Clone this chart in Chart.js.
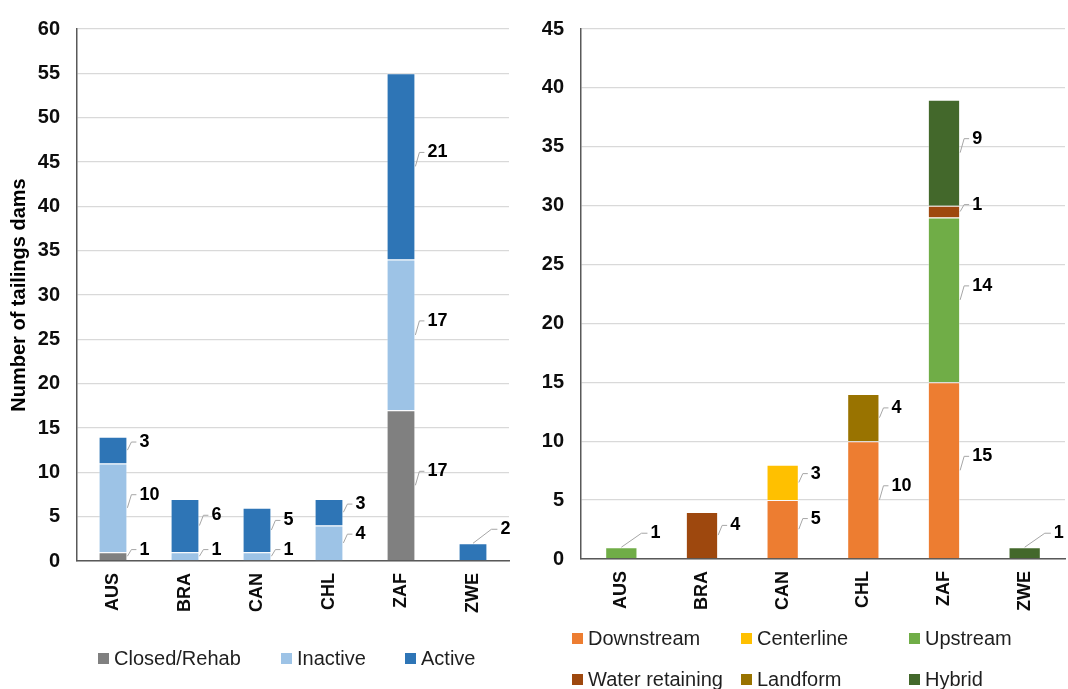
<!DOCTYPE html>
<html>
<head>
<meta charset="utf-8">
<script src="https://cdn.jsdelivr.net/npm/chart.js@4.4.1/dist/chart.umd.min.js"></script>
<style>
  html, body { margin: 0; padding: 0; background: #fff; }
  body {
    width: 1068px; height: 689px; position: relative; overflow: hidden;
    font-family: "Liberation Sans", Arial, sans-serif;
  }
  canvas { position: absolute; top: 0; }
  #statusChart { left: 0; }
  #methodChart { left: 530px; }
  .legend-item {
    position: absolute; display: flex; align-items: center;
    height: 22px; line-height: 22px; font-size: 20px; color: #1f1f1f; white-space: nowrap;
  }
  .legend-item i { display: inline-block; width: 11px; height: 11px; margin-right: 5px; }
</style>
</head>
<body>
<canvas id="statusChart" width="530" height="689"></canvas>
<canvas id="methodChart" width="538" height="689"></canvas>
<div id="legends"></div>

<script>
const countries = ["AUS", "BRA", "CAN", "CHL", "ZAF", "ZWE"];

// dams by status
const closedRehab = [1, 0, 0, 0, 17, 0];
const inactive = [10, 1, 1, 4, 17, 0];
const active = [3, 6, 5, 3, 21, 2];

// dams by construction method
const downstream = [0, 0, 5, 10, 15, 0];
const centerline = [0, 0, 3, 0, 0, 0];
const upstream = [1, 0, 0, 0, 14, 0];
const waterRetaining = [0, 4, 0, 0, 1, 0];
const landform = [0, 0, 0, 4, 0, 0];
const hybrid = [0, 0, 0, 0, 9, 1];

const FONT = "'Liberation Sans', Arial, sans-serif";
Chart.defaults.font.family = FONT;
Chart.defaults.color = "#0d0d0d";

//Value labels with small leader lines to the right of each segment
const leaderLabels = {
  id: "leaderLabels",
  afterDatasetsDraw(chart) {
    const ctx = chart.ctx;
    const sets = chart.data.datasets;
    ctx.save();
    ctx.font = `bold 18px ${FONT}`;
    ctx.fillStyle = "#000";
    ctx.strokeStyle = "#a6a6a6";
    ctx.lineWidth = 1;
    ctx.textBaseline = "middle";
    sets.forEach((ds, i) => {
      const meta = chart.getDatasetMeta(i);
      meta.data.forEach((bar, j) => {
        const value = ds.data[j];
        if (!value) return;
        const { x, y, base, width } = bar.getProps(["x", "y", "base", "width"], true);
        const right = x + width / 2;
        const h = base - y;
        const total = sets.reduce((sum, d) => sum + d.data[j], 0);
        let tx, ty;
        ctx.beginPath();
        if (total === value && h < 20) {
          // short lone bar: leader starts from its top
          ty = y - 14;
          ctx.moveTo(x, y);
          ctx.lineTo(right + 4, ty);
          ctx.lineTo(right + 10, ty);
          tx = right + 13;
        } else {
          const mid = (y + base) / 2;
          ty = mid - (6 + Math.min(h * 0.08, 8));
          ctx.moveTo(right, mid);
          ctx.lineTo(right + 4, ty);
          ctx.lineTo(right + 9, ty);
          tx = right + 12;
        }
        ctx.stroke();
        ctx.fillText(String(value), tx, ty);
      });
    });
    ctx.restore();
  },
};

function makeChart(canvas, datasets, yMax, yWidth, padding, yTitle) {
  return new Chart(canvas, {
    type: "bar",
    data: { labels: countries, datasets: datasets },
    options: {
      responsive: false,
      animation: false,
      devicePixelRatio: 1,
      layout: { padding: padding },
      datasets: {
        bar: {
          categoryPercentage: 1,
          barPercentage: 0.4,
          borderWidth: 1,
          borderColor: "rgba(255,255,255,0.35)",
        },
      },
      plugins: {
        legend: { display: false },
        tooltip: { enabled: false },
      },
      scales: {
        x: {
          stacked: true,
          grid: { display: false, drawTicks: false },
          border: { display: true, color: "#595959", width: 1.5 },
          ticks: {
            minRotation: 90,
            maxRotation: 90,
            padding: 12,
            font: { size: 18, weight: "bold" },
          },
          afterFit: (s) => { s.height = 70; },
        },
        y: {
          stacked: true,
          min: 0,
          max: yMax,
          grid: { color: "#d9d9d9", lineWidth: 1.3, drawTicks: false },
          border: { display: true, color: "#595959", width: 1.5 },
          ticks: { stepSize: 5, padding: 17, font: { size: 20, weight: "bold" } },
          title: {
            display: !!yTitle,
            text: yTitle,
            font: { size: 20, weight: "bold" },
            color: "#000",
            padding: { top: 7, bottom: 0 },
          },
          afterFit: (s) => { s.width = yWidth; },
        },
      },
    },
    plugins: [leaderLabels],
  });
}

const statusSets = [
  { label: "Closed/Rehab", data: closedRehab, backgroundColor: "#808080" },
  { label: "Inactive", data: inactive, backgroundColor: "#9dc3e6" },
  { label: "Active", data: active, backgroundColor: "#2e75b6" },
];

const methodSets = [
  { label: "Downstream", data: downstream, backgroundColor: "#ed7d31" },
  { label: "Centerline", data: centerline, backgroundColor: "#ffc000" },
  { label: "Upstream", data: upstream, backgroundColor: "#70ad47" },
  { label: "Water retaining", data: waterRetaining, backgroundColor: "#9e480e" },
  { label: "Landform", data: landform, backgroundColor: "#997300" },
  { label: "Hybrid", data: hybrid, backgroundColor: "#43682b" },
];

makeChart(document.getElementById("statusChart"), statusSets, 60, 77,
  { top: 24, left: 0, right: 21, bottom: 58 }, "Number of tailings dams");
makeChart(document.getElementById("methodChart"), methodSets, 45, 51,
  { top: 26, left: 0, right: 3, bottom: 60 }, "");

//HTML legends below each chart
function buildLegend(datasets, slots) {
  const holder = document.getElementById("legends");
  datasets.forEach((ds, i) => {
    const item = document.createElement("div");
    item.className = "legend-item";
    item.style.left = slots[i][0] + "px";
    item.style.top = slots[i][1] - 11 + "px";
    const box = document.createElement("i");
    box.style.background = ds.backgroundColor;
    item.appendChild(box);
    item.appendChild(document.createTextNode(ds.label));
    holder.appendChild(item);
  });
}

buildLegend(statusSets, [[98, 658], [281, 658], [405, 658]]);
buildLegend(methodSets, [[572, 638], [741, 638], [909, 638], [572, 679], [741, 679], [909, 679]]);
</script>
</body>
</html>
